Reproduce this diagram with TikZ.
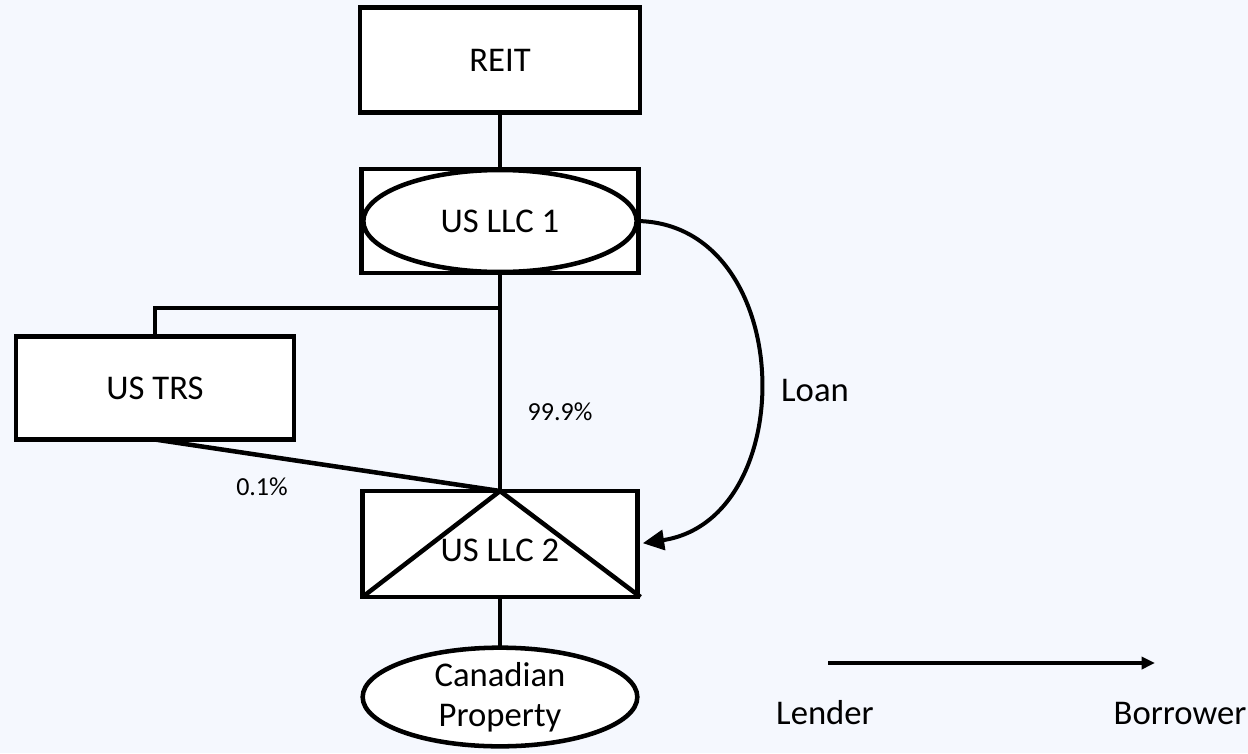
\documentclass[tikz,border=0pt]{standalone}
\usepackage{fontspec}
\setmainfont{Carlito}
\usetikzlibrary{arrows.meta,shapes.geometric,calc}
\definecolor{bgblue}{RGB}{245,248,254}
\begin{document}
\begin{tikzpicture}[x=0.75pt,y=-0.75pt,
  every node/.style={inner sep=0pt,outer sep=0pt},
  entity/.style={draw,line width=3.4pt,fill=white,rectangle,font=\fontsize{26}{30}\selectfont},
  oval/.style={draw,line width=3.4pt,fill=white,ellipse,font=\fontsize{26}{30}\selectfont},
  link/.style={line width=3.4pt},
  lbl/.style={font=\fontsize{26}{30}\selectfont},
  pct/.style={font=\fontsize{19.5}{23}\selectfont}]
  % canvas
  \fill[bgblue] (0,0) rectangle (1248,753);
  \useasboundingbox (0,0) rectangle (1248,753);

  % entities
  \node[entity,minimum width=210pt,minimum height=78.75pt] (reit) at (500,60) {REIT};
  \node[entity,minimum width=207.75pt,minimum height=78pt] (llc1) at (500,221) {};
  \node[oval,minimum width=205pt,minimum height=76.5pt] (llc1o) at (500,221) {US LLC 1};
  \node[entity,minimum width=208.5pt,minimum height=77.25pt] (trs) at (155,388) {US TRS};
  \node[entity,minimum width=206.25pt,minimum height=79.5pt] (llc2) at (500,544) {};
  \node[oval,minimum width=206pt,minimum height=74pt,align=center] (cp) at (500,697) {Canadian\\Property};

  % triangle inside US LLC 2
  \draw[link,line join=miter] (llc2.south west) -- (llc2.north) -- ($(llc2.south east)+(3,0)$);
  \node[lbl] (llc2t) at (500,550) {US LLC 2};

  % ownership lines
  \coordinate (junc) at (500,308);
  \draw[link] (reit.south) -- (llc1.north);
  \draw[link] (llc1.south) -- (llc2.north);
  \draw[link] (trs.north) |- (junc);
  \draw[link] (trs.south) -- (llc2.north);
  \draw[link] (llc2.south) -- (cp.north);

  \node[pct] (p999) at (560,412) {99.9\%};
  \node[pct] (p01) at (262,487) {0.1\%};

  % loan
  \draw[line width=3pt,-{Triangle[length=16pt,width=15pt]},shorten >=4pt]
    (llc1o.east) .. controls +(160,2) and +(165,-25) .. (llc2.east);
  \node[lbl] (loan) at (815,390) {Loan};

  % legend
  \coordinate (lfrom) at (828,663);
  \coordinate (lto) at (1155,663);
  \draw[line width=3pt,-{Triangle[length=10pt,width=9pt]}] (lfrom) -- (lto);
  \node[lbl] (lender) at (825,713) {Lender};
  \node[lbl] (borrower) at (1180,713) {Borrower};
\end{tikzpicture}
\end{document}
